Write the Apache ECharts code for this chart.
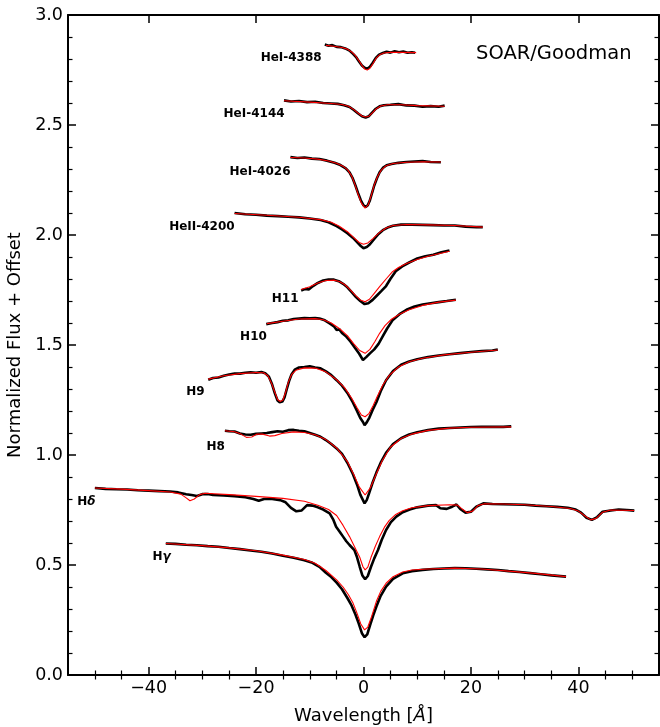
<!DOCTYPE html>
<html>
<head>
<meta charset="utf-8">
<script src="https://cdn.jsdelivr.net/npm/echarts@6/dist/echarts.min.js"></script>
<style>
html,body{margin:0;padding:0;background:#fff;}
#chart{width:660px;height:727px;}
</style>
</head>
<body>
<div id="chart"></div>
<script>
// ---- tick values ----
var xMajor = [-40, -20, 0, 20, 40];
var xMinor = [-50, -45, -35, -30, -25, -15, -10, -5, 5, 10, 15, 25, 30, 35, 45, 50];

// ---- spectra: observed (black) and model (red), [wavelength offset, flux+offset] ----
var obsHeI4388 = [[-7.2,2.866],[-6.5,2.860],[-5.8,2.863],[-5.0,2.855],[-4.2,2.854],[-3.4,2.848],[-2.6,2.838],[-1.9,2.822],[-1.3,2.806],[-0.8,2.787],[-0.3,2.770],[0.2,2.760],[0.7,2.756],[1.2,2.765],[1.7,2.782],[2.3,2.805],[2.9,2.820],[3.6,2.827],[4.3,2.833],[5.0,2.829],[5.8,2.835],[6.6,2.831],[7.4,2.834],[8.2,2.828],[9.0,2.831],[9.6,2.828]];
var modHeI4388 = [[-7.0,2.862],[-5.5,2.858],[-4.0,2.852],[-3.0,2.845],[-2.2,2.832],[-1.5,2.815],[-0.9,2.794],[-0.3,2.771],[0.3,2.753],[0.7,2.750],[1.2,2.758],[1.8,2.781],[2.4,2.805],[3.0,2.819],[3.8,2.827],[5.0,2.830],[7.0,2.830],[9.8,2.829]];

var obsHeI4144 = [[-14.8,2.612],[-13.5,2.607],[-12,2.609],[-10.5,2.604],[-9,2.606],[-7.5,2.600],[-6,2.598],[-4.8,2.596],[-3.6,2.590],[-2.6,2.582],[-1.8,2.568],[-1.0,2.552],[-0.3,2.540],[0.4,2.534],[1.0,2.540],[1.6,2.556],[2.3,2.574],[3.0,2.585],[3.8,2.590],[5,2.592],[6.5,2.595],[8,2.589],[9.5,2.588],[11,2.583],[12.5,2.586],[14,2.583],[15.1,2.588]];
var modHeI4144 = [[-14.8,2.610],[-10,2.604],[-6,2.598],[-4,2.593],[-2.8,2.585],[-1.8,2.570],[-0.9,2.552],[-0.2,2.540],[0.4,2.536],[1.0,2.540],[1.7,2.556],[2.4,2.574],[3.2,2.586],[4.5,2.592],[7,2.592],[10,2.588],[15.1,2.585]];

var obsHeI4026 = [[-13.6,2.354],[-12.3,2.350],[-11,2.352],[-9.6,2.347],[-8.2,2.345],[-6.8,2.338],[-5.4,2.328],[-4.3,2.318],[-3.3,2.303],[-2.6,2.285],[-2.0,2.257],[-1.5,2.225],[-1.0,2.190],[-0.5,2.158],[0,2.135],[0.4,2.127],[0.8,2.135],[1.2,2.158],[1.6,2.192],[2.0,2.225],[2.5,2.258],[3.0,2.285],[3.6,2.305],[4.3,2.317],[5.2,2.323],[6.5,2.328],[8,2.332],[9.5,2.334],[11,2.336],[12.5,2.332],[14.4,2.331]];
var modHeI4026 = [[-13.6,2.352],[-11,2.350],[-8.5,2.345],[-6.5,2.336],[-5,2.326],[-3.8,2.313],[-2.9,2.295],[-2.2,2.268],[-1.6,2.230],[-1.0,2.185],[-0.4,2.145],[0.3,2.122],[0.9,2.138],[1.5,2.185],[2.0,2.228],[2.6,2.265],[3.3,2.295],[4.2,2.315],[5.5,2.325],[8,2.331],[11,2.333],[14.4,2.332]];

var obsHeII4200 = [[-24,2.100],[-22,2.094],[-20,2.092],[-18,2.088],[-16,2.086],[-14,2.083],[-12,2.080],[-10,2.075],[-8,2.068],[-6.5,2.058],[-5,2.040],[-4,2.025],[-3,2.008],[-2,1.988],[-1.2,1.968],[-0.5,1.950],[0,1.940],[0.6,1.945],[1.2,1.958],[2,1.982],[2.8,2.005],[3.6,2.022],[4.5,2.034],[5.5,2.042],[7,2.047],[9,2.047],[11,2.046],[13,2.045],[15,2.043],[17,2.043],[19,2.038],[21,2.036],[22.2,2.036]];
var modHeII4200 = [[-24,2.098],[-18,2.090],[-12,2.081],[-8,2.070],[-6,2.058],[-4.5,2.040],[-3,2.015],[-1.8,1.988],[-0.8,1.966],[0,1.958],[0.8,1.964],[1.8,1.985],[3,2.012],[4.2,2.032],[5.5,2.043],[8,2.048],[12,2.046],[17,2.043],[22.2,2.036]];

var obsH11 = [[-11.6,1.748],[-10.8,1.755],[-10.2,1.752],[-9.4,1.768],[-8.5,1.782],[-7.5,1.793],[-6.5,1.798],[-5.5,1.797],[-4.6,1.790],[-3.8,1.778],[-3.0,1.762],[-2.2,1.740],[-1.4,1.718],[-0.6,1.700],[0.2,1.686],[0.9,1.690],[1.7,1.705],[2.5,1.725],[3.3,1.745],[4.2,1.768],[5.0,1.800],[6.0,1.835],[7.2,1.857],[8.5,1.875],[10,1.893],[11.5,1.903],[13,1.910],[14.5,1.922],[16,1.930]];
var modH11 = [[-11.6,1.752],[-10,1.765],[-8.5,1.782],[-7,1.793],[-5.5,1.795],[-4.5,1.789],[-3.5,1.775],[-2.5,1.752],[-1.5,1.726],[-0.6,1.705],[0.3,1.697],[1.1,1.708],[2.0,1.735],[3.0,1.765],[4.2,1.800],[5.4,1.833],[6.5,1.852],[8,1.870],[10,1.889],[12,1.903],[14,1.915],[16,1.926]];

var obsH10 = [[-18.1,1.595],[-17,1.600],[-16,1.604],[-15,1.610],[-14,1.612],[-13,1.618],[-12,1.620],[-11,1.622],[-10,1.621],[-9,1.622],[-8.2,1.620],[-7.2,1.612],[-6.3,1.598],[-5.5,1.585],[-5.0,1.568],[-4.5,1.571],[-4.0,1.555],[-3.2,1.538],[-2.4,1.515],[-1.6,1.487],[-0.8,1.460],[-0.1,1.432],[0.5,1.445],[1.2,1.462],[2.0,1.480],[2.8,1.505],[3.6,1.540],[4.4,1.575],[5.4,1.612],[6.7,1.640],[8,1.660],[9.5,1.675],[11,1.684],[12.5,1.690],[14,1.695],[15.5,1.700],[17.2,1.706]];
var modH10 = [[-18,1.597],[-15,1.608],[-12,1.618],[-9,1.620],[-7.5,1.615],[-6,1.600],[-4.5,1.575],[-3,1.543],[-1.8,1.505],[-0.7,1.475],[0.3,1.462],[1.2,1.480],[2.1,1.515],[3.0,1.553],[4.0,1.588],[5.2,1.617],[6.7,1.640],[8.5,1.660],[11,1.680],[14,1.695],[17.2,1.704]];

var obsH9 = [[-28.9,1.342],[-28,1.350],[-27,1.352],[-26,1.360],[-25,1.366],[-24,1.370],[-23,1.370],[-22,1.374],[-21,1.376],[-20,1.374],[-19,1.377],[-18.3,1.372],[-17.6,1.356],[-17,1.320],[-16.5,1.280],[-16,1.248],[-15.6,1.240],[-15.1,1.243],[-14.7,1.262],[-14.3,1.298],[-13.8,1.340],[-13.4,1.366],[-12.8,1.388],[-12,1.398],[-11,1.400],[-10,1.403],[-9,1.398],[-8,1.394],[-7,1.380],[-6,1.363],[-5,1.340],[-4,1.315],[-3,1.282],[-2,1.240],[-1.3,1.205],[-0.6,1.168],[-0.1,1.150],[0.2,1.136],[0.6,1.148],[1.1,1.170],[1.7,1.205],[2.4,1.240],[3.2,1.290],[4.2,1.340],[5.5,1.382],[7,1.410],[8.5,1.425],[10,1.435],[12,1.445],[14,1.452],[16,1.458],[18,1.463],[20,1.468],[22,1.472],[24,1.475],[25,1.480]];
var modH9 = [[-28.9,1.345],[-26,1.360],[-23,1.370],[-20,1.375],[-18.6,1.374],[-17.8,1.360],[-17.1,1.325],[-16.5,1.285],[-16,1.252],[-15.5,1.243],[-15,1.250],[-14.5,1.285],[-14,1.330],[-13.4,1.365],[-12.6,1.385],[-11,1.396],[-9,1.395],[-7,1.378],[-5,1.342],[-3.5,1.305],[-2.2,1.258],[-1.2,1.215],[-0.4,1.182],[0.3,1.174],[1.0,1.188],[1.8,1.225],[2.6,1.268],[3.6,1.318],[4.8,1.362],[6.5,1.400],[8.5,1.424],[11,1.440],[15,1.455],[20,1.467],[25,1.477]];

var obsH8 = [[-25.8,1.110],[-25,1.108],[-24,1.107],[-23,1.098],[-22,1.093],[-21,1.092],[-20,1.096],[-19,1.098],[-18,1.100],[-17,1.104],[-16,1.108],[-15,1.106],[-14,1.113],[-13,1.114],[-12,1.110],[-11,1.108],[-10,1.100],[-9,1.092],[-8,1.083],[-7,1.068],[-6,1.050],[-5,1.030],[-4,1.005],[-3,0.965],[-2,0.915],[-1.2,0.865],[-0.6,0.820],[-0.1,0.795],[0.2,0.780],[0.6,0.795],[1.1,0.830],[1.7,0.875],[2.4,0.920],[3.2,0.965],[4.2,1.010],[5.5,1.050],[7,1.076],[8.5,1.093],[10,1.103],[12,1.113],[14,1.120],[16,1.123],[18,1.125],[20,1.127],[22,1.128],[24,1.128],[26,1.128],[27.5,1.130]];
var modH8 = [[-25.8,1.110],[-24,1.106],[-22.8,1.095],[-21.8,1.080],[-20.8,1.082],[-19.8,1.095],[-18.8,1.095],[-17.5,1.086],[-16.5,1.088],[-15.2,1.098],[-13,1.105],[-11,1.102],[-9,1.092],[-7,1.070],[-5,1.032],[-3,0.970],[-1.8,0.910],[-0.8,0.855],[0.3,0.818],[1.3,0.852],[2.4,0.915],[3.5,0.975],[5,1.035],[7,1.075],[9,1.095],[12,1.112],[16,1.122],[20,1.126],[27.5,1.128]];

var obsHdelta = [[-50,0.850],[-48,0.846],[-46,0.844],[-44,0.843],[-42,0.840],[-40,0.838],[-38,0.836],[-36,0.834],[-34.5,0.830],[-33,0.822],[-32,0.818],[-31,0.814],[-30,0.822],[-29,0.823],[-28,0.818],[-26,0.816],[-24,0.813],[-22,0.808],[-20.5,0.800],[-19.5,0.792],[-18.5,0.800],[-17,0.800],[-15.5,0.795],[-14.5,0.785],[-13.5,0.760],[-12.5,0.744],[-11.5,0.748],[-10.5,0.772],[-9.5,0.770],[-8.5,0.762],[-7.5,0.752],[-6.3,0.735],[-5.6,0.705],[-5.1,0.674],[-4.4,0.650],[-3.8,0.629],[-3.2,0.608],[-2.6,0.591],[-1.7,0.568],[-1.2,0.535],[-0.7,0.492],[-0.2,0.452],[0.3,0.435],[0.8,0.450],[1.4,0.492],[2.0,0.530],[2.7,0.568],[3.4,0.615],[4.2,0.659],[5.1,0.695],[6.1,0.720],[7.3,0.740],[8.6,0.752],[10,0.762],[12,0.770],[13.5,0.772],[14.3,0.758],[15.5,0.755],[16.5,0.765],[17.3,0.775],[18,0.755],[19,0.738],[20,0.742],[21,0.765],[22.3,0.780],[24,0.777],[26,0.776],[28,0.775],[30,0.774],[32,0.770],[34,0.767],[36,0.764],[38,0.760],[39.5,0.752],[40.5,0.738],[41.5,0.715],[42.5,0.705],[43.5,0.718],[44.5,0.742],[46,0.748],[47.5,0.752],[49,0.750],[50.4,0.747]];
var modHdelta = [[-50,0.850],[-45,0.845],[-40,0.838],[-36,0.832],[-34,0.822],[-33,0.805],[-32.3,0.792],[-31.5,0.800],[-30.5,0.820],[-29.5,0.826],[-25,0.820],[-20,0.812],[-15,0.803],[-11,0.790],[-8.5,0.772],[-6.5,0.752],[-5.0,0.725],[-3.8,0.680],[-2.6,0.629],[-1.6,0.580],[-0.7,0.535],[-0.1,0.492],[0.3,0.478],[0.8,0.490],[1.4,0.535],[2.2,0.585],[3.0,0.629],[3.9,0.672],[4.8,0.703],[6,0.730],[7.3,0.747],[9,0.760],[12,0.770],[16,0.774],[17.5,0.772],[18.5,0.752],[19.3,0.738],[20.3,0.745],[21.3,0.770],[22.5,0.778],[26,0.777],[30,0.774],[35,0.766],[38.5,0.757],[40,0.745],[41.5,0.718],[42.3,0.705],[43.3,0.712],[44.5,0.740],[46,0.750],[50.4,0.748]];

var obsHgamma = [[-36.8,0.598],[-35,0.596],[-33,0.592],[-31,0.590],[-29,0.586],[-27,0.583],[-25,0.577],[-23,0.572],[-21,0.566],[-19,0.560],[-17,0.552],[-15,0.542],[-13,0.533],[-11,0.522],[-9.5,0.510],[-8.2,0.492],[-7,0.465],[-6,0.445],[-5,0.420],[-4,0.390],[-3,0.350],[-2.2,0.315],[-1.5,0.275],[-0.9,0.235],[-0.3,0.190],[0.2,0.172],[0.7,0.185],[1.2,0.225],[1.8,0.270],[2.4,0.311],[3.2,0.360],[4.2,0.402],[5.5,0.437],[7.3,0.462],[9,0.472],[11,0.478],[13,0.482],[15,0.484],[17,0.486],[19,0.485],[21,0.483],[23,0.480],[25,0.477],[27,0.472],[29,0.468],[31,0.463],[33,0.458],[35,0.453],[37.7,0.447]];
var modHgamma = [[-36.8,0.598],[-30,0.588],[-25,0.578],[-20,0.565],[-15,0.545],[-11,0.525],[-9,0.508],[-7,0.475],[-5,0.432],[-3.8,0.400],[-2.8,0.365],[-2,0.330],[-1.2,0.280],[-0.5,0.232],[0.2,0.205],[0.8,0.218],[1.5,0.265],[2.4,0.335],[3.2,0.380],[4.2,0.417],[5.5,0.447],[7.3,0.468],[9,0.477],[12,0.482],[17,0.486],[22,0.482],[27,0.472],[32,0.462],[37.7,0.447]];

// ---- line labels: [name, x anchor (right edge), y] ----
var lineNames = ['HeI-4388','HeI-4144','HeI-4026','HeII-4200','H11','H10','H9','H8','Hδ','Hγ'];
var labelX = [-7.6, -14.5, -13.4, -23.8, -11.9, -17.8, -29.4, -25.6, -49.7, -35.7];
var labelY = [2.805, 2.550, 2.288, 2.038, 1.708, 1.538, 1.288, 1.038, 0.788, 0.538];

var observed = [obsHeI4388, obsHeI4144, obsHeI4026, obsHeII4200, obsH11, obsH10, obsH9, obsH8, obsHdelta, obsHgamma];
var models = [modHeI4388, modHeI4144, modHeI4026, modHeII4200, modH11, modH10, modH9, modH8, modHdelta, modHgamma];

var FONT = 'DejaVu Sans';
var series = [];
observed.forEach(function (d, i) {
  series.push({type:'line', name:'obs'+i, data:d, xAxisIndex:0, yAxisIndex:0, showSymbol:false, symbol:'none',
    lineStyle:{color:'#000', width:2.6}, z:2, silent:true});
});
models.forEach(function (d, i) {
  series.push({type:'line', name:'mod'+i, data:d, xAxisIndex:0, yAxisIndex:0, showSymbol:false, symbol:'none',
    lineStyle:{color:'#ff0000', width:1.1}, z:3, silent:true});
});
series.push({
  type:'scatter', xAxisIndex:0, yAxisIndex:0, symbolSize:0, silent:true, z:4,
  itemStyle:{color:'#000'},
  data: lineNames.map(function (n, i) { return {name:n, value:[labelX[i], labelY[i]]}; }),
  label:{show:true, position:'left', distance:1, color:'#000', fontFamily:FONT, fontSize:12, fontWeight:'bold',
    textBorderWidth:0, textShadowBlur:0, opacity:1,
    formatter:function (p) {
      var n = p.name;
      if (n === 'Hδ') return 'H{g|δ}';
      if (n === 'Hγ') return 'H{g|γ}';
      return n;
    },
    rich:{g:{fontFamily:FONT, fontSize:12, fontWeight:'bold', fontStyle:'italic', color:'#000', textBorderWidth:0}}
  }
});

function fmtX(v){ return v < 0 ? '\u2212' + Math.abs(v) : String(v); }

var axLine = {show:true, onZero:false, lineStyle:{color:'#000', width:2}};
var option = {
  animation:false,
  backgroundColor:'#fff',
  grid:{left:68, right:1, top:15, bottom:52, containLabel:false, outerBoundsMode:'none'},
  title:{text:'SOAR/Goodman', left:471, top:39, textStyle:{fontFamily:FONT, fontSize:19.5, fontWeight:'normal', color:'#000'}},
  xAxis:[
    {type:'value', min:-55, max:55, position:'bottom', axisLine:axLine,
     axisTick:{show:true, inside:true, length:8, lineStyle:{color:'#000', width:1.5}, customValues:xMajor},
     axisLabel:{show:true, customValues:xMajor, formatter:fmtX, fontFamily:FONT, fontSize:17.5, color:'#000', margin:4},
     splitLine:{show:false},
     name:'Wavelength [{i|Å}]', nameLocation:'middle', nameGap:32,
     nameTextStyle:{fontFamily:FONT, fontSize:18, color:'#000', rich:{i:{fontFamily:FONT, fontSize:18, fontStyle:'italic', color:'#000'}}}},
    {type:'value', min:-55, max:55, position:'bottom', axisLine:{show:false},
     axisTick:{show:true, inside:true, length:4.5, lineStyle:{color:'#000', width:1.2}, customValues:xMinor},
     axisLabel:{show:false}, splitLine:{show:false}},
    {type:'value', min:-55, max:55, position:'top', axisLine:axLine,
     axisTick:{show:true, inside:true, length:8, lineStyle:{color:'#000', width:1.5}, customValues:xMajor},
     axisLabel:{show:false}, splitLine:{show:false}},
    {type:'value', min:-55, max:55, position:'top', axisLine:{show:false},
     axisTick:{show:true, inside:true, length:4.5, lineStyle:{color:'#000', width:1.2}, customValues:xMinor},
     axisLabel:{show:false}, splitLine:{show:false}}
  ],
  yAxis:[
    {type:'value', min:0, max:3, interval:0.5, position:'left', axisLine:axLine,
     axisTick:{show:true, inside:true, length:8, lineStyle:{color:'#000', width:1.5}},
     minorTick:{show:true, splitNumber:5, length:4.5, lineStyle:{color:'#000', width:1.2}},
     axisLabel:{formatter:function(v){return v.toFixed(1);}, fontFamily:FONT, fontSize:17.5, color:'#000', margin:5},
     splitLine:{show:false}, minorSplitLine:{show:false},
     name:'Normalized Flux + Offset', nameLocation:'middle', nameGap:39,
     nameTextStyle:{fontFamily:FONT, fontSize:18, color:'#000'}},
    {type:'value', min:0, max:3, interval:0.5, position:'right', axisLine:axLine,
     axisTick:{show:true, inside:true, length:8, lineStyle:{color:'#000', width:1.5}},
     minorTick:{show:true, splitNumber:5, length:4.5, lineStyle:{color:'#000', width:1.2}},
     axisLabel:{show:false}, splitLine:{show:false}, minorSplitLine:{show:false}}
  ],
  series: series
};
var chart = echarts.init(document.getElementById('chart'), null, {renderer:'canvas'});
chart.setOption(option);
</script>
</body>
</html>
